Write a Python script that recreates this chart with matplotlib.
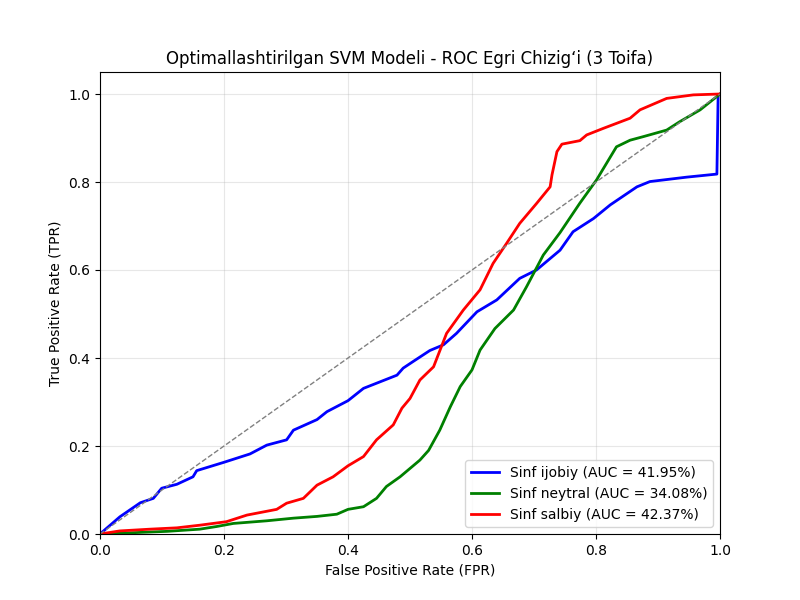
import numpy as np
import matplotlib
matplotlib.use("Agg")
import matplotlib.pyplot as plt

# ROC points (FPR, TPR)
fpr_ijobiy = [0.0, 0.032, 0.065, 0.086, 0.0995, 0.124, 0.15, 0.156, 0.2, 0.242, 0.269,
              0.301, 0.312, 0.35, 0.366, 0.4, 0.425, 0.452, 0.479, 0.489, 0.505, 0.532,
              0.554, 0.575, 0.608, 0.64, 0.677, 0.704, 0.742, 0.763, 0.796, 0.823, 0.866,
              0.887, 0.946, 0.995, 0.997, 1.0]
tpr_ijobiy = [0.0, 0.039, 0.071, 0.081, 0.104, 0.113, 0.13, 0.144, 0.163, 0.182, 0.202,
              0.214, 0.236, 0.26, 0.278, 0.303, 0.331, 0.346, 0.361, 0.377, 0.392, 0.417,
              0.43, 0.456, 0.505, 0.532, 0.581, 0.6, 0.645, 0.687, 0.717, 0.748, 0.789,
              0.801, 0.811, 0.818, 0.998, 1.0]

fpr_neytral = [0.0, 0.108, 0.161, 0.188, 0.215, 0.269, 0.312, 0.35, 0.382, 0.4, 0.425,
               0.446, 0.462, 0.484, 0.5, 0.516, 0.53, 0.548, 0.565, 0.581, 0.6, 0.613,
               0.637, 0.667, 0.688, 0.715, 0.742, 0.774, 0.801, 0.833, 0.855, 0.876,
               0.914, 0.935, 0.968, 1.0]
tpr_neytral = [0.0, 0.006, 0.011, 0.017, 0.024, 0.03, 0.036, 0.04, 0.045, 0.056, 0.062,
               0.081, 0.108, 0.13, 0.149, 0.168, 0.19, 0.236, 0.289, 0.335, 0.373, 0.418,
               0.467, 0.509, 0.562, 0.634, 0.685, 0.752, 0.805, 0.88, 0.895, 0.903,
               0.918, 0.937, 0.964, 1.0]

fpr_salbiy = [0.0, 0.032, 0.081, 0.124, 0.161, 0.204, 0.237, 0.285, 0.301, 0.328, 0.35,
              0.376, 0.4, 0.425, 0.446, 0.473, 0.487, 0.5, 0.516, 0.538, 0.559, 0.586,
              0.613, 0.634, 0.656, 0.677, 0.704, 0.726, 0.729, 0.737, 0.745, 0.774,
              0.785, 0.812, 0.855, 0.871, 0.914, 0.957, 1.0]
tpr_salbiy = [0.0, 0.007, 0.011, 0.014, 0.02, 0.028, 0.043, 0.056, 0.07, 0.081, 0.111,
              0.13, 0.155, 0.176, 0.214, 0.248, 0.286, 0.308, 0.35, 0.38, 0.456, 0.509,
              0.555, 0.615, 0.661, 0.706, 0.751, 0.789, 0.816, 0.869, 0.886, 0.894,
              0.907, 0.922, 0.945, 0.964, 0.99, 0.998, 1.0]

labels = ["Sinf ijobiy", "Sinf neytral", "Sinf salbiy"]
aucs = [41.95, 34.08, 42.37]
colors = ["blue", "green", "red"]

fig, ax = plt.subplots(figsize=(8, 6), dpi=100)

curves = [(fpr_ijobiy, tpr_ijobiy), (fpr_neytral, tpr_neytral), (fpr_salbiy, tpr_salbiy)]
for (fx, ty), lab, auc, col in zip(curves, labels, aucs, colors):
    ax.plot(fx, ty, color=col, lw=2, label=f"{lab} (AUC = {auc:.2f}%)")

ax.plot([0, 1], [0, 1], color="gray", linestyle="--", lw=1)

ax.set_xlim(0.0, 1.0)
ax.set_ylim(0.0, 1.05)
ax.set_xlabel("False Positive Rate (FPR)")
ax.set_ylabel("True Positive Rate (TPR)")
ax.set_title("Optimallashtirilgan SVM Modeli - ROC Egri Chizig\u2018i (3 Toifa)")
ax.legend(loc="lower right")
ax.grid(alpha=0.3)

plt.savefig("out.png")
